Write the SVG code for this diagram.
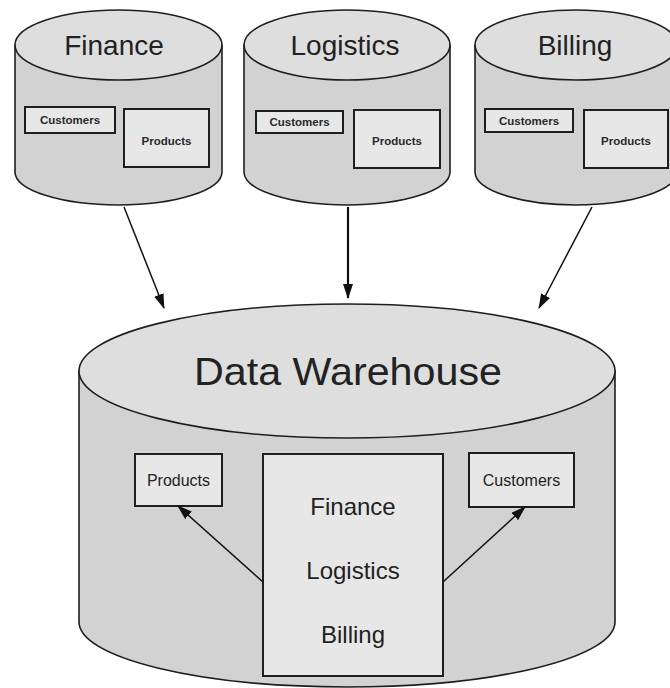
<svg xmlns="http://www.w3.org/2000/svg" width="670" height="688" viewBox="0 0 670 688">
  <style>
    .side { fill: #d2d2d2; stroke: #1e1e1e; stroke-width: 1.6; }
    .top { fill: #dedede; stroke: #1e1e1e; stroke-width: 1.6; }
    .box { fill: #e7e7e7; stroke: #1e1e1e; stroke-width: 2; }
    .title { font-family: "Liberation Sans", Arial, sans-serif; font-size: 28px; fill: #222; text-anchor: middle; }
    .small { font-family: "Liberation Sans", Arial, sans-serif; font-size: 11.5px; font-weight: bold; fill: #2a2a2a; text-anchor: middle; }
    .label { font-family: "Liberation Sans", Arial, sans-serif; font-size: 16px; fill: #222; text-anchor: middle; }
    .mid { font-family: "Liberation Sans", Arial, sans-serif; font-size: 24px; fill: #222; text-anchor: middle; }
    .conn { stroke: #111; stroke-width: 1.5; fill: none; marker-end: url(#head); }
  </style>
  <defs>
    <marker id="head" viewBox="0 0 15 10" refX="14" refY="5" markerWidth="15" markerHeight="10" markerUnits="userSpaceOnUse" orient="auto">
      <path d="M0,0 L15,5 L0,10 Z" fill="#111"/>
    </marker>
  </defs>
  <rect width="670" height="688" fill="#ffffff"/>

  <!-- Source databases -->
  <g id="finance">
    <path class="side" d="M15,45 L15,172 A103.5,33 0 0 0 222,172 L222,45 Z"/>
    <ellipse class="top" cx="118.5" cy="45" rx="103.5" ry="35"/>
    <text class="title" x="114" y="55">Finance</text>
    <rect class="box" x="25" y="107" width="90" height="26"/>
    <text class="small" x="70" y="124">Customers</text>
    <rect class="box" x="124" y="109" width="85" height="58"/>
    <text class="small" x="166.5" y="145">Products</text>
  </g>

  <g id="logistics">
    <path class="side" d="M244,45 L244,172 A103,33 0 0 0 450,172 L450,45 Z"/>
    <ellipse class="top" cx="347" cy="45" rx="103" ry="35"/>
    <text class="title" x="345" y="55">Logistics</text>
    <rect class="box" x="256" y="111" width="87" height="22"/>
    <text class="small" x="299.5" y="126">Customers</text>
    <rect class="box" x="354" y="110" width="86" height="58"/>
    <text class="small" x="397" y="145">Products</text>
  </g>

  <g id="billing">
    <path class="side" d="M475,45 L475,172 A101,33 0 0 0 677,172 L677,45 Z"/>
    <ellipse class="top" cx="576" cy="45" rx="101" ry="35"/>
    <text class="title" x="575" y="55">Billing</text>
    <rect class="box" x="485" y="109" width="88" height="23"/>
    <text class="small" x="529" y="125">Customers</text>
    <rect class="box" x="584" y="110" width="84" height="58"/>
    <text class="small" x="626" y="145">Products</text>
  </g>

  <!-- Central warehouse -->
  <g id="warehouse">
    <path class="side" d="M79,371 L79,622 A268,65 0 0 0 615,622 L615,371 Z"/>
    <ellipse class="top" cx="347" cy="371" rx="268" ry="67"/>
    <text class="title" x="348" y="385" style="font-size:39px" textLength="308" lengthAdjust="spacingAndGlyphs">Data Warehouse</text>
  </g>

  <g id="dw-products">
    <rect class="box" x="135" y="454" width="87" height="52"/>
    <text class="label" x="178.5" y="486">Products</text>
  </g>

  <g id="dw-customers">
    <rect class="box" x="469" y="453" width="105" height="54"/>
    <text class="label" x="521.5" y="486">Customers</text>
  </g>

  <g id="dw-sources">
    <rect class="box" x="263" y="454" width="180" height="222"/>
    <text class="mid" x="353" y="515">Finance</text>
    <text class="mid" x="353" y="579">Logistics</text>
    <text class="mid" x="353" y="643">Billing</text>
  </g>

  <!-- Connectors -->
  <g id="connectors">
    <line class="conn" x1="124" y1="207" x2="164" y2="308"/>
    <line class="conn" x1="348" y1="207" x2="348" y2="298" style="stroke-width:2.2"/>
    <line class="conn" x1="592" y1="207" x2="539" y2="308"/>
    <line class="conn" x1="263" y1="582" x2="178" y2="506"/>
    <line class="conn" x1="443" y1="582" x2="525" y2="507"/>
  </g>
</svg>
